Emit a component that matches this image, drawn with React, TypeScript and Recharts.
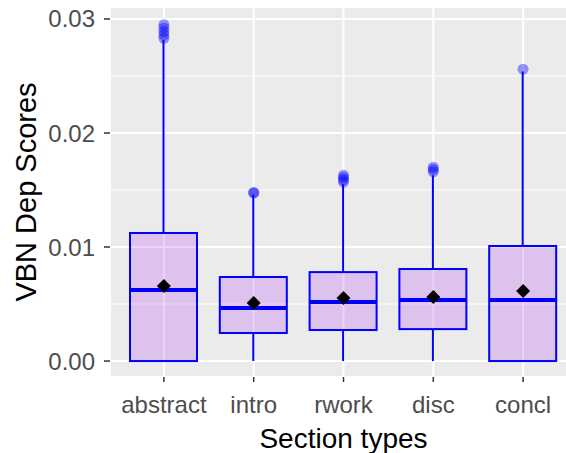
import {
  Bar,
  CartesianGrid,
  ComposedChart,
  Scatter,
  XAxis,
  YAxis,
} from "recharts";

// values
const categories = ["abstract", "intro", "rwork", "disc", "concl"];
const whiskerLow = [0, 0, 0, 0, 0];
const q1 = [0, 0.00246, 0.00272, 0.0028, 0];
const median = [0.00623, 0.00465, 0.00518, 0.00535, 0.00535];
const q3 = [0.01123, 0.00737, 0.0078, 0.00807, 0.01009];
const whiskerHigh = [0.02816, 0.0146, 0.0155, 0.0163, 0.0254];
const means = [0.00658, 0.00509, 0.00553, 0.00561, 0.00614];

const outliers: Record<string, number[]> = {
  abstract: [0.0283, 0.0286, 0.0289, 0.0292, 0.0295],
  intro: [0.01474, 0.01478],
  rwork: [0.0157, 0.0159, 0.0161, 0.0163],
  disc: [0.0166, 0.0168, 0.017],
  concl: [0.0256],
};

const yTicks = [0, 0.01, 0.02, 0.03];
const yMinor = [0.005, 0.015, 0.025];

const rows = categories.map((name, i) => ({
  name,
  lo: whiskerLow[i],
  q1: q1[i],
  med: median[i],
  q3: q3[i],
  hi: whiskerHigh[i],
  mean: means[i],
}));

const outlierRows = categories.flatMap((name) =>
  outliers[name].map((value) => ({ name, value }))
);

const BLUE = "#0000ff";
const FONT = "'Liberation Sans', Arial, sans-serif";

function BoxShape(props: any) {
  const { x, y, width, height, payload } = props;
  const { lo, hi } = payload;
  // pixel position of a value, from the bar's own [lo, hi] extent
  const py = (v: number) => y + ((hi - v) / (hi - lo)) * height;
  const cx = x + width / 2;
  return (
    <g>
      <line x1={cx} x2={cx} y1={py(hi)} y2={py(payload.q3)} stroke={BLUE} strokeWidth={2} />
      <line x1={cx} x2={cx} y1={py(payload.q1)} y2={py(lo)} stroke={BLUE} strokeWidth={2} />
      <rect
        x={x}
        y={py(payload.q3)}
        width={width}
        height={py(payload.q1) - py(payload.q3)}
        fill="#a020f0"
        fillOpacity={0.2}
        stroke={BLUE}
        strokeWidth={2}
      />
      <line
        x1={x}
        x2={x + width}
        y1={py(payload.med)}
        y2={py(payload.med)}
        stroke={BLUE}
        strokeWidth={4}
      />
    </g>
  );
}

function Diamond(props: any) {
  const { cx, cy } = props;
  const s = 7;
  return (
    <polygon
      points={`${cx},${cy - s} ${cx + s},${cy} ${cx},${cy + s} ${cx - s},${cy}`}
      fill="#000"
    />
  );
}

function Outlier(props: any) {
  return <circle cx={props.cx} cy={props.cy} r={5.5} fill={BLUE} fillOpacity={0.4} />;
}

export default function App() {
  return (
    <div
      style={{
        position: "fixed",
        left: 0,
        top: 0,
        width: 566,
        height: 453,
        overflow: "hidden",
        background: "#fff",
      }}
    >
      <ComposedChart
        width={578}
        height={453}
        data={rows}
        margin={{ top: 7, right: 1, left: 0, bottom: 0 }}
      >
        <CartesianGrid fill="#ebebeb" stroke="#fff" strokeWidth={2} />
        <CartesianGrid
          vertical={false}
          horizontalValues={yMinor}
          stroke="#fff"
          strokeWidth={1}
        />
        <XAxis
          dataKey="name"
          type="category"
          allowDuplicatedCategory={false}
          padding={{ left: 9, right: 9 }}
          height={76}
          axisLine={false}
          tickSize={5}
          tickMargin={14}
          tickLine={{ stroke: "#333", strokeWidth: 1.5 }}
          tick={{ fill: "#4d4d4d", fontSize: 24, fontFamily: FONT }}
          label={({ viewBox }: any) => (
            <text
              x={viewBox.x + viewBox.width / 2}
              y={viewBox.y + 71}
              textAnchor="middle"
              fontSize={28}
              fontFamily={FONT}
              fill="#000"
            >
              Section types
            </text>
          )}
        />
        <YAxis
          type="number"
          domain={[-0.0014, 0.03105]}
          ticks={yTicks}
          allowDataOverflow
          width={110}
          axisLine={false}
          tickSize={6}
          tickMargin={9}
          tickLine={{ stroke: "#333", strokeWidth: 1.5 }}
          tickFormatter={(v: number) => v.toFixed(2)}
          tick={{ fill: "#4d4d4d", fontSize: 24, fontFamily: FONT }}
          label={({ viewBox }: any) => {
            const cy = viewBox.y + viewBox.height / 2;
            return (
              <text
                x={36}
                y={cy}
                transform={`rotate(-90, 36, ${cy})`}
                textAnchor="middle"
                fontSize={29}
                fontFamily={FONT}
                fill="#000"
              >
                VBN Dep Scores
              </text>
            );
          }}
        />
        <Bar
          dataKey={(d: any) => [d.lo, d.hi]}
          barSize={67}
          shape={BoxShape}
          isAnimationActive={false}
        />
        <Scatter
          data={outlierRows}
          dataKey="value"
          shape={Outlier}
          isAnimationActive={false}
        />
        <Scatter data={rows} dataKey="mean" shape={Diamond} isAnimationActive={false} />
      </ComposedChart>
    </div>
  );
}
